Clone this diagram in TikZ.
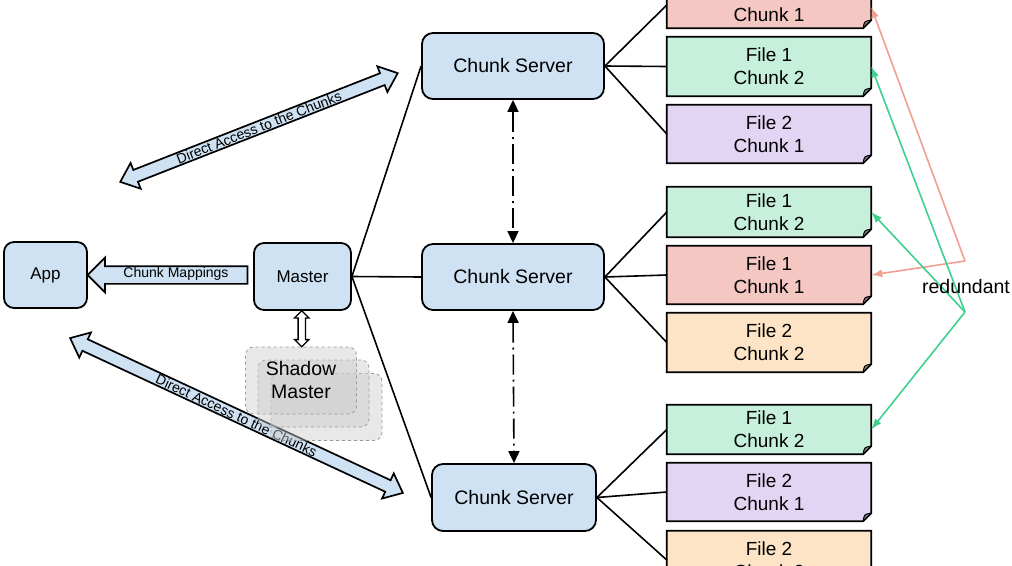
\documentclass[tikz,border=0pt]{standalone}
\usepackage{fontspec}
\setmainfont{Liberation Sans}
\usetikzlibrary{shapes.arrows,arrows.meta,calc}
\definecolor{boxblue}{HTML}{CFE2F3}
\definecolor{fred}{HTML}{F4C7C3}
\definecolor{fgreen}{HTML}{C6F0DC}
\definecolor{fpurple}{HTML}{E1D5F3}
\definecolor{forange}{HTML}{FDE4C6}
\definecolor{lred}{HTML}{F0A090}
\definecolor{lgreen}{HTML}{3FCF8E}
\pgfdeclarelayer{background}
\pgfsetlayers{background,main}
\newcommand\fileb[6]{%
  \node[ftext, minimum height=#4pt] (#1) at (#2,#3) {#6};
  \begin{pgfonlayer}{background}
  \draw[fline, fill=#5] (#1.north west) -- (#1.north east) -- ([yshift=8pt]#1.south east) -- ([xshift=-8pt]#1.south east) -- (#1.south west) -- cycle;
  \draw[line width=1pt, fill=#5!55!black, line join=round] ([yshift=8pt]#1.south east) .. controls ([xshift=-7pt,yshift=7pt]#1.south east) .. ([xshift=-8pt]#1.south east) -- cycle;
  \end{pgfonlayer}
}
\tikzset{
  bbox/.style={draw, line width=1.8pt, fill=boxblue, rounded corners=10pt, inner sep=0pt, font=\fontsize{17}{20}\selectfont},
  cs/.style={draw, line width=1.8pt, fill=boxblue, rounded corners=11pt, inner sep=0pt, minimum width=182pt, minimum height=66pt, font=\fontsize{19.5}{23}\selectfont},
  ftext/.style={minimum width=204pt, inner sep=0pt, align=center, font=\fontsize{19}{23}\selectfont},
  fline/.style={line width=1.8pt, line join=miter},
  shadowbox/.style={draw=gray!85, dashed, line width=0.8pt, fill=black!20, fill opacity=0.45, draw opacity=0.9, text opacity=1, rounded corners=8pt, minimum width=111pt, minimum height=67pt, inner sep=0pt, align=center, font=\fontsize{19.5}{23}\selectfont},
  conn/.style={line width=1.6pt},
  dd/.style={line width=1.6pt, dash pattern=on 20pt off 5pt on 2pt off 5pt, {Triangle[length=12pt,width=11pt]}-{Triangle[length=12pt,width=11pt]}},
  redarr/.style={draw=lred, line width=1.6pt, -{Latex[length=11pt,width=8pt]}},
  greenarr/.style={draw=lgreen, line width=1.6pt, -{Latex[length=11pt,width=8pt]}},
  blockdbl/.style={double arrow, draw, line width=1.7pt, fill=boxblue, inner xsep=0pt, inner ysep=5.5pt, double arrow head extend=7.5pt, double arrow tip angle=80},
  smalltext/.style={font=\fontsize{14}{16}\selectfont, inner sep=0pt}
}
\begin{document}
\begin{tikzpicture}[x=1pt,y=-1pt]
\useasboundingbox (0,0) rectangle (1012,565);

% big direct-access arrows
\node[blockdbl, rotate=21.4, minimum height=298pt] (da1) at (259,127.5) {};
\node[smalltext, rotate=21.4] (da1l) at (259,127.5) {Direct Access to the Chunks};
\node[blockdbl, rotate=-24.96, minimum height=367pt] (da2) at (236.5,415.5) {};
\node[smalltext, rotate=-24.96] (da2l) at (236.5,415.5) {Direct Access to the Chunks};

% app and master
\node[bbox, minimum width=83pt, minimum height=66pt] (app) at (45.5,275) {App};
\node[bbox, minimum width=97pt, minimum height=67pt] (master) at (302.5,276.5) {Master};

% chunk mappings arrow
\node[single arrow, rotate=180, draw, line width=1.7pt, fill=boxblue, minimum height=160pt, inner xsep=0pt, inner ysep=8pt, single arrow head extend=8.5pt, single arrow tip angle=90] (cma) at (172,275) {};
\node[smalltext] (cmal) at (176,274) {Chunk Mappings};

% shadow master
\node[shadowbox] (sh3) at (326.5,407) {};
\node[shadowbox] (sh2) at (313.5,393.5) {};
\node[shadowbox] (sh1) at (301,380.5) {Shadow\\Master};
\node[double arrow, draw, line width=1.3pt, fill=white, rotate=90, minimum height=36pt, inner xsep=0pt, inner ysep=3pt, double arrow head extend=3.5pt, double arrow tip angle=90] (msa) at ($(master.south)!0.5!(sh1.north)$) {};

% chunk servers
\node[cs] (cs1) at (513,66) {Chunk Server};
\node[cs] (cs2) at (513,277) {Chunk Server};
\node[cs, minimum width=164pt, minimum height=67pt] (cs3) at (514,497.5) {Chunk Server};

\draw[conn] (master.east) -- (cs1.west);
\draw[conn] (master.east) -- (cs2.west);
\draw[conn] (master.east) -- (cs3.west);

\draw[dd] (cs1.south) -- (cs2.north);
\draw[dd] (cs2.south) -- (cs3.north);

% files
\fileb{fa1}{769}{3}{50}{fred}{File 1\\Chunk 1}
\fileb{fa2}{769}{66.5}{59}{fgreen}{File 1\\Chunk 2}
\fileb{fa3}{769}{134}{58}{fpurple}{File 2\\Chunk 1}
\fileb{fb1}{769}{212}{50}{fgreen}{File 1\\Chunk 2}
\fileb{fb2}{769}{275}{58}{fred}{File 1\\Chunk 1}
\fileb{fb3}{769}{342.5}{59}{forange}{File 2\\Chunk 2}
\fileb{fc1}{769}{429.5}{49}{fgreen}{File 1\\Chunk 2}
\fileb{fc2}{769}{492}{58}{fpurple}{File 2\\Chunk 1}
\fileb{fc3}{769}{560}{58}{forange}{File 2\\Chunk 2}

\draw[conn] (cs1.east) -- ([yshift=-2pt]fa1.west);
\draw[conn] (cs1.east) -- (fa2.west);
\draw[conn] (cs1.east) -- (fa3.west);
\draw[conn] (cs2.east) -- (fb1.west);
\draw[conn] (cs2.east) -- (fb2.west);
\draw[conn] (cs2.east) -- (fb3.west);
\draw[conn] (cs3.east) -- (fc1.west);
\draw[conn] (cs3.east) -- (fc2.west);
\draw[conn] (cs3.east) -- (fc3.west);

% redundant
\coordinate (rc) at (965,261);
\coordinate (gc) at (965,312);
\draw[redarr] (rc) -- ([yshift=-4pt]fa1.east);
\draw[redarr] (rc) -- (fb2.east);
\draw[greenarr] (gc) -- (fa2.east);
\draw[greenarr] (gc) -- (fb1.east);
\draw[greenarr] (gc) -- (fc1.east);
\node[font=\fontsize{19.5}{23}\selectfont, inner sep=0pt] (redl) at (966,287) {redundant};
\end{tikzpicture}
\end{document}
